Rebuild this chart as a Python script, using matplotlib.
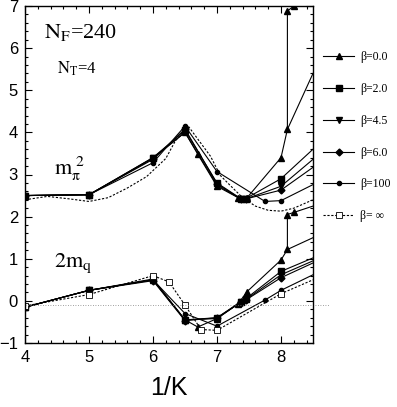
import numpy as np
import matplotlib
matplotlib.use("Agg")
import matplotlib.pyplot as plt
from matplotlib.ticker import MultipleLocator

plt.rcParams["mathtext.fontset"] = "stix"

# upper set: m_pi^2 ; lower set: 2 m_q
x_b0 = [4, 5, 6, 6.5, 6.7, 7, 7.33, 7.47, 8, 8.1, 8.5]
mpi_b0 = [2.5, 2.52, 3.4, 4.0, 3.48, 2.72, 2.45, 2.45, 3.4, 4.07, 5.4]
mq_b0 = [-0.15, 0.25, 0.5, -0.45, -0.62, -0.42, -0.07, 0.22, 0.97, 1.22, 1.5]

# second branch of beta=0 near 1/K=8.1
x_b0_br = [8.1, 8.1, 8.2, 8.5]
mpi_b0_br = [4.07, 6.88, 7.0, 7.3]
mq_b0_br = [1.22, 2.05, 2.1, 2.25]

x_mid = [4, 5, 6, 6.5, 7, 7.37, 7.45, 8, 8.5]
mpi_b2 = [2.5, 2.52, 3.4, 4.05, 2.8, 2.43, 2.43, 2.9, 3.6]
mq_b2 = [-0.15, 0.25, 0.52, -0.45, -0.4, -0.02, 0.05, 0.7, 1.02]
mpi_b45 = [2.5, 2.52, 3.38, 4.0, 2.75, 2.42, 2.42, 2.72, 3.36]
mq_b45 = [-0.15, 0.25, 0.5, -0.45, -0.42, -0.03, 0.03, 0.62, 0.95]
mpi_b6 = [2.5, 2.52, 3.36, 4.08, 2.78, 2.42, 2.42, 2.63, 3.17]
mq_b6 = [-0.15, 0.25, 0.48, -0.47, -0.4, -0.04, 0.02, 0.55, 0.9]

x_b100 = [4, 5, 6, 6.5, 7, 7.75, 8, 8.5]
mpi_b100 = [2.5, 2.52, 3.28, 4.15, 3.07, 2.36, 2.38, 2.76]
mq_b100 = [-0.15, 0.25, 0.5, -0.3, -0.6, 0.02, 0.25, 0.62]

x_inf = [4, 5, 6, 6.25, 6.5, 6.75, 7, 8, 8.5]
mq_inf = [-0.12, 0.15, 0.6, 0.45, -0.1, -0.68, -0.7, 0.17, 0.5]

x_inf_curve = [4, 4.35, 4.7, 5, 5.3, 5.6, 5.9, 6.2, 6.35, 6.55, 6.72, 6.9, 7.05, 7.2,
               7.4, 7.6, 7.8, 8.0, 8.2, 8.5]
mpi_inf_curve = [2.4, 2.48, 2.42, 2.36, 2.45, 2.68, 2.95, 3.38, 3.8, 4.15, 3.8, 3.43,
                 2.98, 2.75, 2.45, 2.25, 2.15, 2.13, 2.2, 2.4]

betas = ["β=0.0", "β=2.0", "β=4.5", "β=6.0", "β=100", "β= ∞"]

fig = plt.figure(figsize=(3.97, 4.07), dpi=100)
ax = fig.add_axes([25 / 397, 1 - 343 / 407, 288 / 397, 337 / 407])

lw = 0.8
kw = dict(color="black", linewidth=lw)
last = slice(0, -1)  # no marker on the edge point

ax.plot(x_b0, mpi_b0, marker="^", markersize=5, markevery=last, label=betas[0], **kw)
ax.plot(x_b0, mq_b0, marker="^", markersize=5, markevery=last, **kw)
ax.plot(x_b0_br, mpi_b0_br, marker="^", markersize=5, markevery=[1, 2], **kw)
ax.plot(x_b0_br, mq_b0_br, marker="^", markersize=5, markevery=[1, 2], **kw)

ax.plot(x_mid, mpi_b2, marker="s", markersize=4, markevery=last, label=betas[1], **kw)
ax.plot(x_mid, mq_b2, marker="s", markersize=4, markevery=last, **kw)
ax.plot(x_mid, mpi_b45, marker="v", markersize=5, markevery=last, label=betas[2], **kw)
ax.plot(x_mid, mq_b45, marker="v", markersize=5, markevery=last, **kw)
ax.plot(x_mid, mpi_b6, marker="D", markersize=3.5, markevery=last, label=betas[3], **kw)
ax.plot(x_mid, mq_b6, marker="D", markersize=3.5, markevery=last, **kw)

ax.plot(x_b100, mpi_b100, marker="o", markersize=3, markevery=last, label=betas[4], **kw)
ax.plot(x_b100, mq_b100, marker="o", markersize=3, markevery=last, **kw)

ax.plot(x_inf, mq_inf, marker="s", markersize=4, markerfacecolor="white",
        markeredgewidth=0.6, markevery=last, linestyle=(0, (2, 1.5)), label=betas[5], **kw)
ax.plot(x_inf_curve, mpi_inf_curve, linestyle=(0, (2, 1.5)), **kw)

ax.plot([4, 8.77], [-0.1, -0.1], color="gray", linewidth=0.6, linestyle=(0, (1, 2)),
        clip_on=False)

ax.set_xlim(4, 8.5)
ax.set_ylim(-1, 7)
ax.xaxis.set_major_locator(MultipleLocator(1))
ax.xaxis.set_minor_locator(MultipleLocator(0.2))
ax.yaxis.set_major_locator(MultipleLocator(1))
ax.yaxis.set_minor_locator(MultipleLocator(0.2))
ax.tick_params(which="both", direction="in", top=True, right=True, width=0.8)
ax.tick_params(which="major", length=5, labelsize=12, pad=5)
ax.tick_params(which="minor", length=2.5)
for lab in ax.get_xticklabels() + ax.get_yticklabels():
    lab.set_fontfamily("Liberation Sans")
for s in ax.spines.values():
    s.set_linewidth(1.0)

ax.set_xlabel("1/K", fontsize=18, family="Liberation Sans", labelpad=8)

serif = "Liberation Serif"
ax.text(4.3, 6.25, r"$\mathrm{N_F}$=240", fontsize=16, family=serif)
ax.text(4.5, 5.4, r"$\mathrm{N_T}$=4", fontsize=12, family=serif)
ax.text(4.45, 3.0, r"$\mathrm{m_\pi^{\ 2}}$", fontsize=16, family=serif)
ax.text(4.45, 0.8, r"$\mathrm{2m_q}$", fontsize=16, family=serif)

leg = ax.legend(loc="upper left", bbox_to_anchor=(1.02, 0.88), frameon=False,
                prop={"family": serif, "size": 8.5}, handlelength=2.6,
                handletextpad=0.5, labelspacing=1.68, borderaxespad=0)

fig.savefig("out.png", dpi=100)
